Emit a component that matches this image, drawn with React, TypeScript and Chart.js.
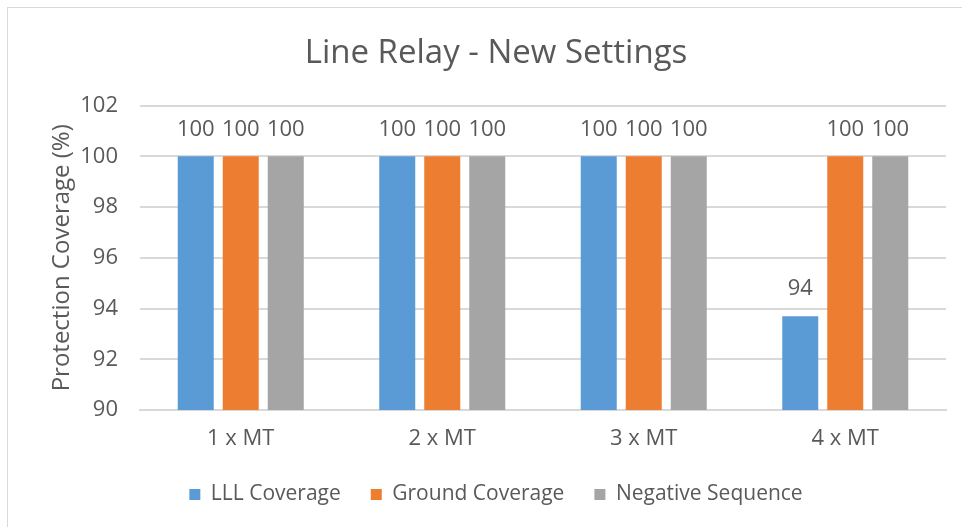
import React, { useEffect, useRef } from "react";
import { Chart, registerables } from "chart.js";

Chart.register(...registerables);

const categories = ["1 x MT", "2 x MT", "3 x MT", "4 x MT"];
const lllCoverage = [100, 100, 100, 93.7];
const groundCoverage = [100, 100, 100, 100];
const negativeSequence = [100, 100, 100, 100];
const yTicks = [90, 92, 94, 96, 98, 100, 102];

const FONT = "'Open Sans', 'Noto Sans', sans-serif";
const TEXT = "#595959";

const valueLabels = {
  id: "valueLabels",
  afterDatasetsDraw(chart: any) {
    const ctx = chart.ctx;
    ctx.save();
    ctx.font = `22px ${FONT}`;
    ctx.fillStyle = TEXT;
    ctx.textAlign = "center";
    ctx.textBaseline = "middle";
    chart.data.datasets.forEach((ds: any, i: number) => {
      const meta = chart.getDatasetMeta(i);
      meta.data.forEach((bar: any, j: number) => {
        const v = ds.data[j];
        ctx.fillText(String(Math.round(v)), bar.x, bar.y - 27);
      });
    });
    ctx.restore();
  },
};

export default function App() {
  const ref = useRef<HTMLCanvasElement>(null);
  useEffect(() => {
    if (!ref.current) return;
    const chart = new Chart(ref.current, {
      type: "bar",
      data: {
        labels: categories,
        datasets: [
          { label: "LLL Coverage", data: lllCoverage, backgroundColor: "#5B9BD5" },
          { label: "Ground Coverage", data: groundCoverage, backgroundColor: "#ED7D31" },
          { label: "Negative Sequence", data: negativeSequence, backgroundColor: "#A5A5A5" },
        ],
      },
      options: {
        animation: false,
        responsive: false,
        maintainAspectRatio: false,
        layout: { padding: { left: 46, right: 16, top: 0, bottom: 12 } },
        datasets: { bar: { categoryPercentage: 0.67, barPercentage: 0.8 } },
        plugins: {
          title: {
            display: true,
            text: "Line Relay - New Settings",
            color: TEXT,
            font: { family: FONT, size: 33, weight: "normal" },
            padding: { top: 34, bottom: 32 },
          },
          legend: {
            position: "bottom",
            labels: {
              color: TEXT,
              font: { family: FONT, size: 21 },
              boxWidth: 11,
              boxHeight: 11,
              padding: 30,
            },
          },
          tooltip: { enabled: false },
        },
        scales: {
          x: {
            grid: { display: false, drawTicks: false },
            border: { display: true, color: "#D9D9D9", width: 2 },
            ticks: { color: TEXT, font: { family: FONT, size: 22 }, padding: 16 },
            afterFit: (s: any) => {
              s.height = 44;
            },
          },
          y: {
            min: 90,
            max: 102,
            afterBuildTicks: (s: any) => {
              s.ticks = yTicks.map((v) => ({ value: v }));
            },
            afterFit: (s: any) => {
              s.width = 94;
            },
            grid: { color: "#D9D9D9", lineWidth: 2, drawTicks: false },
            border: { display: false },
            ticks: { color: TEXT, font: { family: FONT, size: 22 }, padding: 22 },
            title: {
              display: true,
              text: "Protection Coverage (%)",
              color: TEXT,
              font: { family: FONT, size: 24 },
              padding: { top: 2, bottom: 0 },
            },
          },
        },
      },
      plugins: [valueLabels],
    });
    return () => chart.destroy();
  }, []);
  return (
    <div style={{ position: "absolute", left: 0, top: 0, width: 962, height: 527, background: "#fff", overflow: "hidden" }}>
      <div style={{ position: "absolute", left: 7, top: 7, width: 1000, height: 600, border: "1px solid #D9D9D9" }} />
      <canvas ref={ref} width={962} height={527} style={{ position: "absolute", left: 0, top: 0 }} />
    </div>
  );
}
